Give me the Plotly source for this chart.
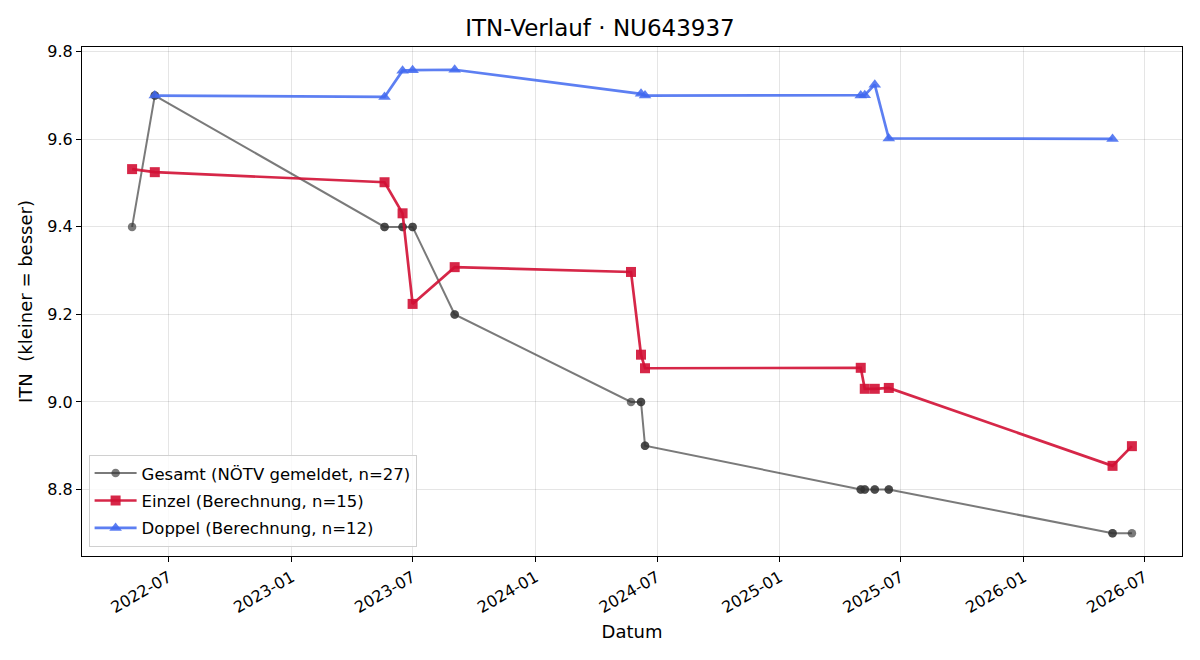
import plotly.graph_objects as go

# Einzel (singles) series
einzel_dates = ["2022-05-07", "2022-06-10", "2023-05-20", "2023-06-16", "2023-07-01",
                "2023-09-02", "2024-05-23", "2024-06-07", "2024-06-13", "2025-05-02",
                "2025-05-08", "2025-05-23", "2025-06-13", "2026-05-14", "2026-06-12"]
einzel_vals = [9.532, 9.525, 9.502, 9.431, 9.224,
               9.308, 9.297, 9.108, 9.077, 9.078,
               9.030, 9.030, 9.032, 8.854, 8.899]

# Doppel (doubles) series
doppel_dates = ["2022-06-10", "2023-05-20", "2023-06-16", "2023-07-01", "2023-09-02",
                "2024-06-07", "2024-06-13", "2025-05-02", "2025-05-08", "2025-05-23",
                "2025-06-13", "2026-05-14"]
doppel_vals = [9.700, 9.697, 9.757, 9.758, 9.759,
               9.704, 9.700, 9.700, 9.701, 9.725,
               9.602, 9.601]

# Gesamt (reported overall) series
gesamt_dates = ["2022-05-07", "2022-06-10", "2022-06-10", "2023-05-20", "2023-05-20",
                "2023-06-16", "2023-06-16", "2023-07-01", "2023-07-01", "2023-09-02",
                "2023-09-02", "2024-05-23", "2024-06-07", "2024-06-07", "2024-06-13",
                "2024-06-13", "2025-05-02", "2025-05-02", "2025-05-08", "2025-05-08",
                "2025-05-23", "2025-05-23", "2025-06-13", "2025-06-13", "2026-05-14",
                "2026-05-14", "2026-06-12"]
gesamt_vals = [9.4, 9.7, 9.7, 9.4, 9.4,
               9.4, 9.4, 9.4, 9.4, 9.2,
               9.2, 9.0, 9.0, 9.0, 8.9,
               8.9, 8.8, 8.8, 8.8, 8.8,
               8.8, 8.8, 8.8, 8.8, 8.7,
               8.7, 8.7]

x_ticks = ["2022-07-01", "2023-01-01", "2023-07-01", "2024-01-01", "2024-07-01",
           "2025-01-01", "2025-07-01", "2026-01-01", "2026-07-01"]
x_tick_labels = ["2022-07", "2023-01", "2023-07", "2024-01", "2024-07",
                 "2025-01", "2025-07", "2026-01", "2026-07"]
y_ticks = [8.8, 9.0, 9.2, 9.4, 9.6, 9.8]

fig = go.Figure()
fig.add_trace(go.Scatter(
    x=gesamt_dates, y=gesamt_vals, mode="lines+markers",
    name="Gesamt (NÖTV gemeldet, n=27)", legendgroup="g",
    line=dict(color="rgba(51,51,51,0.65)", width=2),
    marker=dict(symbol="circle", size=8.5, color="rgba(51,51,51,0.65)",
                line=dict(width=0)),
))
fig.add_trace(go.Scatter(
    x=einzel_dates, y=einzel_vals, mode="lines+markers",
    name="Einzel (Berechnung, n=15)", legendgroup="e",
    line=dict(color="rgba(210,16,52,0.9)", width=2.7),
    marker=dict(symbol="square", size=10, color="rgba(210,16,52,0.9)",
                line=dict(width=0)),
))
fig.add_trace(go.Scatter(
    x=doppel_dates, y=doppel_vals, mode="lines+markers",
    name="Doppel (Berechnung, n=12)", legendgroup="d",
    line=dict(color="rgba(65,105,240,0.85)", width=2.7),
    marker=dict(symbol="triangle-up", size=11, color="rgba(65,105,240,0.85)",
                line=dict(width=0)),
))

fig.update_layout(
    width=1200, height=660,
    paper_bgcolor="white", plot_bgcolor="white",
    font=dict(family="DejaVu Sans", size=16, color="black"),
    title=dict(text="ITN-Verlauf · NU643937", x=0.5, xanchor="center",
               y=0.957, yanchor="middle", font=dict(size=23)),
    margin=dict(l=82, r=18, t=47, b=104),
    showlegend=True,
    legend=dict(x=0.006, y=0.018, xanchor="left", yanchor="bottom",
                bgcolor="rgba(255,255,255,0.8)", bordercolor="#d0d0d0",
                borderwidth=1, font=dict(size=16.5), tracegroupgap=3,
                itemwidth=42),
)
fig.update_xaxes(
    range=["2022-02-21", "2026-08-26"],
    tickvals=x_ticks, ticktext=x_tick_labels, tickangle=-30,
    showgrid=True, gridcolor="rgba(0,0,0,0.1)", gridwidth=1,
    showline=True, linecolor="black", linewidth=1, mirror=True,
    ticks="outside", ticklen=5, tickcolor="black",
    tickfont=dict(size=16),
    title=dict(text="Datum", font=dict(size=18), standoff=9),
    zeroline=False,
)
fig.update_yaxes(
    range=[8.648, 9.811],
    tickvals=y_ticks, tickformat=".1f",
    showgrid=True, gridcolor="rgba(0,0,0,0.1)", gridwidth=1,
    showline=True, linecolor="black", linewidth=1, mirror=True,
    ticks="outside", ticklen=5, tickcolor="black",
    tickfont=dict(size=16),
    title=dict(text="ITN\u00a0 (kleiner = besser)", font=dict(size=18), standoff=10),
    zeroline=False,
)

fig.write_html("out.html")
